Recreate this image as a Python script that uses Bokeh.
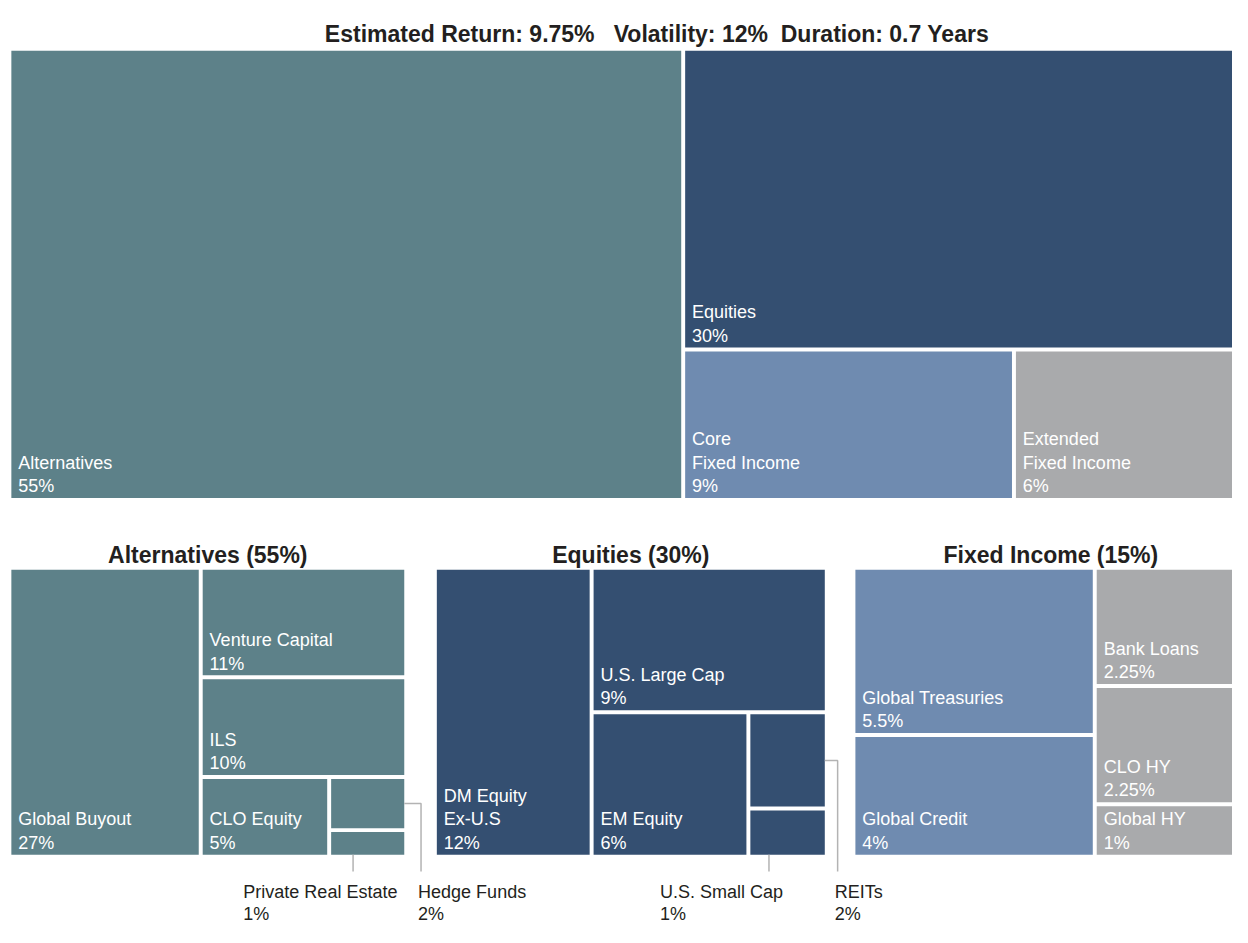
from bokeh.plotting import figure
from bokeh.models import Range1d
from bokeh.embed import file_html
from bokeh.resources import INLINE
from bokeh.core.properties import value

# ---------------- data ----------------
NB = "\u00a0"
title_text = "Estimated Return: 9.75%" + NB * 3 + "Volatility: 12%" + NB * 2 + "Duration: 0.7 Years"

top_names = ["Alternatives", "Equities", "Core\nFixed Income", "Extended\nFixed Income"]
top_values = [55, 30, 9, 6]
top_labels = ["55%", "30%", "9%", "6%"]

alt_names = ["Global Buyout", "Venture Capital", "ILS", "CLO Equity", "Hedge Funds", "Private Real Estate"]
alt_values = [27, 11, 10, 5, 2, 1]
alt_labels = ["27%", "11%", "10%", "5%", "2%", "1%"]

eq_names = ["DM Equity\nEx-U.S", "U.S. Large Cap", "EM Equity", "REITs", "U.S. Small Cap"]
eq_values = [12, 9, 6, 2, 1]
eq_labels = ["12%", "9%", "6%", "2%", "1%"]

fi_names = ["Global Treasuries", "Global Credit", "Bank Loans", "CLO HY", "Global HY"]
fi_values = [5.5, 4, 2.25, 2.25, 1]
fi_labels = ["5.5%", "4%", "2.25%", "2.25%", "1%"]

panel_titles = ["Alternatives (55%)", "Equities (30%)", "Fixed Income (15%)"]

# ---------------- styles ----------------
TEAL = "#5d8189"
NAVY = "#344f71"
CORE = "#6f8bb0"
GREY = "#a9aaac"
FONT = "Liberation Sans"

top_colors = [TEAL, NAVY, CORE, GREY]
alt_colors = [TEAL] * 6
eq_colors = [NAVY] * 5
fi_colors = [CORE, CORE, GREY, GREY, GREY]

alt_inside = [True, True, True, True, False, False]
eq_inside = [True, True, True, False, False]

# tree structures (slice orientation, children = leaf indices)
top_tree = ("h", [0, ("v", [1, ("h", [2, 3])])])
alt_tree = ("h", [0, ("v", [1, 2, ("h", [3, ("v", [4, 5])])])])
eq_tree = ("h", [0, ("v", [1, ("h", [2, ("v", [3, 4])])])])
fi_tree = ("h", [("v", [0, 1]), ("v", [2, 3, 4])])


def total(node, vals):
    if isinstance(node, int):
        return vals[node]
    return sum(total(k, vals) for k in node[1])


def layout(node, vals, x0, y0, x1, y1, out):
    if isinstance(node, int):
        out[node] = (x0, y0, x1, y1)
        return
    orient, kids = node
    T = total(node, vals)
    pos = x0 if orient == "h" else y0
    for k in kids:
        frac = total(k, vals) / T
        if orient == "h":
            nxt = pos + frac * (x1 - x0)
            layout(k, vals, pos, y0, nxt, y1, out)
        else:
            nxt = pos + frac * (y1 - y0)
            layout(k, vals, x0, pos, x1, nxt, out)
        pos = nxt


G = 2.0  # half gap
p = figure(width=1232, height=927, x_range=Range1d(0, 1248), y_range=Range1d(943, 0),
           output_backend="svg", toolbar_location=None, min_border=0)
p.axis.visible = False
p.grid.visible = False
p.outline_line_color = None
p.background_fill_color = "white"
p.border_fill_color = "white"

LABEL_SIZE = "18px"


def draw_panel(tree, vals, names, labels, colors, inside, box):
    out = {}
    layout(tree, vals, *box, out)
    rects = {}
    L, R, T, B = [], [], [], []
    for i in range(len(vals)):
        x0, y0, x1, y1 = out[i]
        r = (x0 + G, y0 + G, x1 - G, y1 - G)
        rects[i] = r
        L.append(r[0]); R.append(r[2]); T.append(r[1]); B.append(r[3])
    p.quad(left=L, right=R, top=T, bottom=B, fill_color=colors, line_color=None)
    tx, ty, tt = [], [], []
    for i in range(len(vals)):
        if not inside[i]:
            continue
        x0, y0, x1, y1 = rects[i]
        lines = names[i].split("\n") + [labels[i]]
        n = len(lines)
        for j, s in enumerate(lines):
            tx.append(x0 + 7)
            ty.append(y1 - 12 - 24 * (n - 1 - j))
            tt.append(s)
    p.text(x=tx, y=ty, text=tt, text_color="white", text_font=value(FONT),
           text_font_size=LABEL_SIZE, text_baseline="alphabetic", text_align="left")
    return rects


top_rects = draw_panel(top_tree, top_values, top_names, top_labels, top_colors,
                       [True] * 4, (9, 49, 1250, 508))
alt_rects = draw_panel(alt_tree, alt_values, alt_names, alt_labels, alt_colors,
                       alt_inside, (9, 577, 411, 871))
eq_rects = draw_panel(eq_tree, eq_values, eq_names, eq_labels, eq_colors,
                      eq_inside, (440, 577, 837, 871))
fi_rects = draw_panel(fi_tree, fi_values, fi_names, fi_labels, fi_colors,
                      [True] * 5, (864, 577, 1250, 871))

# title and panel titles
p.text(x=[665], y=[34], text=[title_text], text_color="#231f20", text_font=value(FONT),
       text_font_style="bold", text_font_size="23px", text_align="center",
       text_baseline="alphabetic")
panel_boxes = [(9, 411), (440, 837), (864, 1250)]
p.text(x=[(a + b) / 2 + (7 if k == 2 else 0) for k, (a, b) in enumerate(panel_boxes)],
       y=[564] * 3, text=panel_titles, text_color="#231f20", text_font=value(FONT),
       text_font_style="bold", text_font_size="23px", text_align="center",
       text_baseline="alphabetic")

# leader lines for small tiles
LINE_END = 886
xs, ys = [], []
pre = alt_rects[5]
px = pre[0] + 0.3 * (pre[2] - pre[0])
xs.append([px, px]); ys.append([pre[3], LINE_END])
hf = alt_rects[4]
hy = (hf[1] + hf[3]) / 2
xs.append([hf[2], hf[2] + 17, hf[2] + 17]); ys.append([hy, hy, LINE_END])
sc = eq_rects[4]
sx = sc[0] + 0.25 * (sc[2] - sc[0])
xs.append([sx, sx]); ys.append([sc[3], LINE_END])
re = eq_rects[3]
ry = (re[1] + re[3]) / 2
xs.append([re[2], re[2] + 13, re[2] + 13]); ys.append([ry, ry, LINE_END])
p.multi_line(xs=xs, ys=ys, line_color="#b3b3b3", line_width=1.5)

ext_names = [alt_names[5], alt_names[4], eq_names[4], eq_names[3]]
ext_labels = [alt_labels[5], alt_labels[4], eq_labels[4], eq_labels[3]]
ext_x = [246, 423, 668, 845]
ex, ey, et = [], [], []
for k in range(4):
    ex += [ext_x[k], ext_x[k]]
    ey += [907, 929]
    et += [ext_names[k], ext_labels[k]]
p.text(x=ex, y=ey, text=et, text_color="#231f20", text_font=value(FONT),
       text_font_size=LABEL_SIZE, text_baseline="alphabetic", text_align="left")

open("out.html", "w").write(file_html(p, INLINE))
